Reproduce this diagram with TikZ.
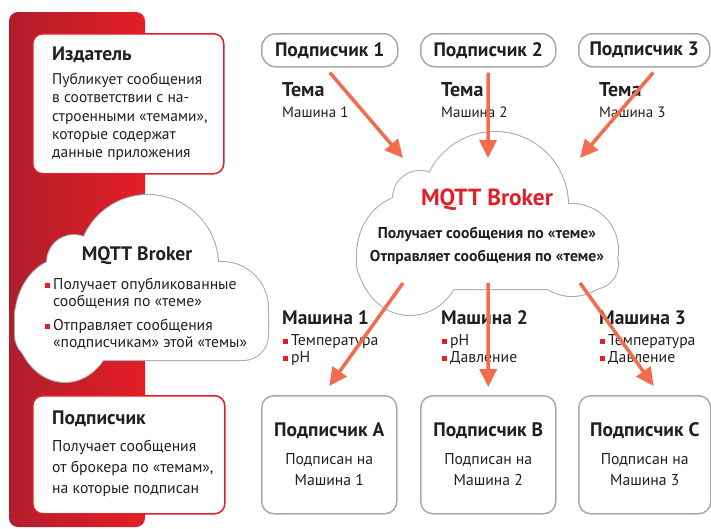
\documentclass[tikz,border=0pt]{standalone}
\usepackage{fontspec}
\setmainfont{PT Sans}
\usetikzlibrary{arrows.meta,positioning}
\definecolor{mqRed}{RGB}{228,30,38}
\definecolor{mqDark}{RGB}{176,30,43}
\definecolor{mqArrow}{RGB}{242,108,77}
\definecolor{mqGray}{RGB}{168,169,172}
\definecolor{mqText}{RGB}{35,31,32}
\newcommand{\bul}{\textcolor{mqRed}{\rule[1.5pt]{5pt}{5pt}}\hspace{3pt}}
% cloud outlines, as unions of round parts
\newcommand{\leftcloud}{(148,265) circle (70pt) (74,262) circle (27pt) (65,320) ellipse (50pt and 62pt) (222,308) circle (46pt)}
\newcommand{\leftbase}{[rounded corners=25pt] (15,290) rectangle (268,360)}
\newcommand{\midcloud}{(495,205) circle (73pt) (420,198) circle (27pt) (410,255) ellipse (53pt and 60pt) (572,250) circle (46pt)}
\newcommand{\midbase}{[rounded corners=25pt] (357,240) rectangle (618,289)}
\begin{document}
\begin{tikzpicture}[x=1pt, y=-1pt,
  every node/.style={text=mqText},
  redbox/.style={draw=mqRed, line width=1.5pt, rounded corners=10pt, fill=white, anchor=north west},
  greybox/.style={draw=mqGray, line width=1.5pt, rounded corners=12pt, fill=white},
  pill/.style={greybox, rounded corners=14pt, minimum height=33pt, anchor=north west,
               font=\fontsize{19.5}{21}\selectfont\bfseries},
  subbox/.style={greybox, minimum height=118pt, anchor=north west},
  ttl/.style={font=\fontsize{19.5}{21}\selectfont\bfseries, inner sep=0pt, anchor=west},
  sttl/.style={font=\fontsize{19.5}{21}\selectfont\bfseries, inner sep=0pt},
  txt/.style={font=\fontsize{15.5}{18.3}\selectfont, inner sep=0pt, align=left, anchor=north west},
  ctxt/.style={font=\fontsize{15.7}{21}\selectfont, inner sep=0pt, align=center, anchor=north},
  cloudline/.style={draw=mqGray, line width=2pt},
  arr/.style={-{Triangle[length=18pt,width=17pt]}, line width=3.5pt, draw=mqArrow}
]
  \useasboundingbox (0,0) rectangle (711,528);

  % red band on the left
  \path[left color=mqDark, right color=mqRed, rounded corners=9pt] (9,12) rectangle (145,527);

  % publisher
  \node[redbox, minimum width=191pt, minimum height=140pt] (pub) at (32,33) {};
  \node[ttl] (pubT) at (52,55) {Издатель};
  \node[txt] (pubB) at (52,73) {Публикует сообщения\\в соответствии с на-\\строенными «темами»,\\которые содержат\\данные приложения};

  % broker on the left
  \draw[cloudline] \leftcloud; \draw[cloudline] \leftbase;
  \fill[white] \leftcloud; \fill[white] \leftbase;
  \node[ttl, anchor=center] (lbrk) at (137,256) {MQTT Broker};
  \node[txt, font=\fontsize{15.7}{17}\selectfont] (lbrkB) at (45,278)
    {\bul Получает опубликованные\\\hspace*{8pt}сообщения по «теме»\\[7pt]\bul Отправляет сообщения\\\hspace*{8pt}«подписчикам» этой «темы»};

  % subscriber
  \node[redbox, minimum width=192pt, minimum height=118pt] (sub) at (32,395) {};
  \node[ttl] (subT) at (52,419) {Подписчик};
  \node[txt, font=\fontsize{15.7}{21}\selectfont] (subB) at (52,440) {Получает сообщения\\от брокера по «темам»,\\на которые подписан};

  % subscribers on top
  \node[pill, minimum width=136pt] (p1) at (261,33) {Подписчик 1};
  \node[pill, minimum width=135pt] (p2) at (420,33) {Подписчик 2};
  \node[pill, minimum width=131pt] (p3) at (578,33) {Подписчик 3};

  \node[sttl, anchor=west, font=\fontsize{20}{21}\selectfont\bfseries] (t1) at (282,90) {Тема};
  \node[sttl, anchor=west, font=\fontsize{20}{21}\selectfont\bfseries] (t2) at (441,90) {Тема};
  \node[sttl, anchor=west, font=\fontsize{20}{21}\selectfont\bfseries] (t3) at (599,90) {Тема};
  \node[txt, anchor=west, font=\fontsize{15}{17}\selectfont] (m1) at (282,112) {Машина 1};
  \node[txt, anchor=west, font=\fontsize{15}{17}\selectfont] (m2) at (441,112) {Машина 2};
  \node[txt, anchor=west, font=\fontsize{15}{17}\selectfont] (m3) at (599,112) {Машина 3};

  % broker in the middle
  \draw[cloudline] \midcloud; \draw[cloudline] \midbase;
  \fill[white] \midcloud; \fill[white] \midbase;
  \node[font=\fontsize{23.3}{25}\selectfont\bfseries, text=mqRed, inner sep=0pt] (brk) at (487,200) {MQTT Broker};
  \node[font=\fontsize{15.7}{23}\selectfont\bfseries, align=center, inner sep=0pt] (brkB) at (487,246)
    {Получает сообщения по «теме»\\Отправляет сообщения по «теме»};

  \coordinate (in1) at (403,158);
  \coordinate (in2) at (488,158);
  \coordinate (in3) at (580,158);
  \draw[arr] ([yshift=-5pt]p1.south) -- (in1);
  \draw[arr] ([yshift=-5pt]p2.south) -- (in2);
  \draw[arr] ([xshift=9pt,yshift=-5pt]p3.south) -- (in3);

  % machines
  \node[sttl, anchor=west] (k1) at (282,318) {Машина 1};
  \node[sttl, anchor=west] (k2) at (441,318) {Машина 2};
  \node[sttl, anchor=west] (k3) at (599,318) {Машина 3};
  \node[txt, font=\fontsize{15.7}{17}\selectfont] (v1) at (283,334) {\bul Температура\\\bul pH};
  \node[txt, font=\fontsize{15.7}{17}\selectfont] (v2) at (442,334) {\bul pH\\\bul Давление};
  \node[txt, font=\fontsize{15.7}{17}\selectfont] (v3) at (600,334) {\bul Температура\\\bul Давление};

  % subscribers at the bottom
  \node[subbox, minimum width=135pt] (b1) at (261,395) {};
  \node[subbox, minimum width=135pt] (b2) at (420,395) {};
  \node[subbox, minimum width=132pt] (b3) at (578,395) {};
  \node[sttl] (b1T) at ([yshift=-36pt]b1.north) {Подписчик A};
  \node[sttl] (b2T) at ([yshift=-36pt]b2.north) {Подписчик B};
  \node[sttl] (b3T) at ([yshift=-36pt]b3.north) {Подписчик C};
  \node[ctxt, below=14pt of b1T] (b1B) {Подписан на\\Машина 1};
  \node[ctxt, below=14pt of b2T] (b2B) {Подписан на\\Машина 2};
  \node[ctxt, below=14pt of b3T] (b3B) {Подписан на\\Машина 3};

  \coordinate (out1) at (403,283);
  \coordinate (out2) at (488,283);
  \coordinate (out3) at (580,283);
  \draw[arr] (out1) -- ([yshift=9pt]b1.north);
  \draw[arr] (out2) -- ([yshift=8pt]b2.north);
  \draw[arr] (out3) -- ([xshift=9pt,yshift=9pt]b3.north);
\end{tikzpicture}
\end{document}
